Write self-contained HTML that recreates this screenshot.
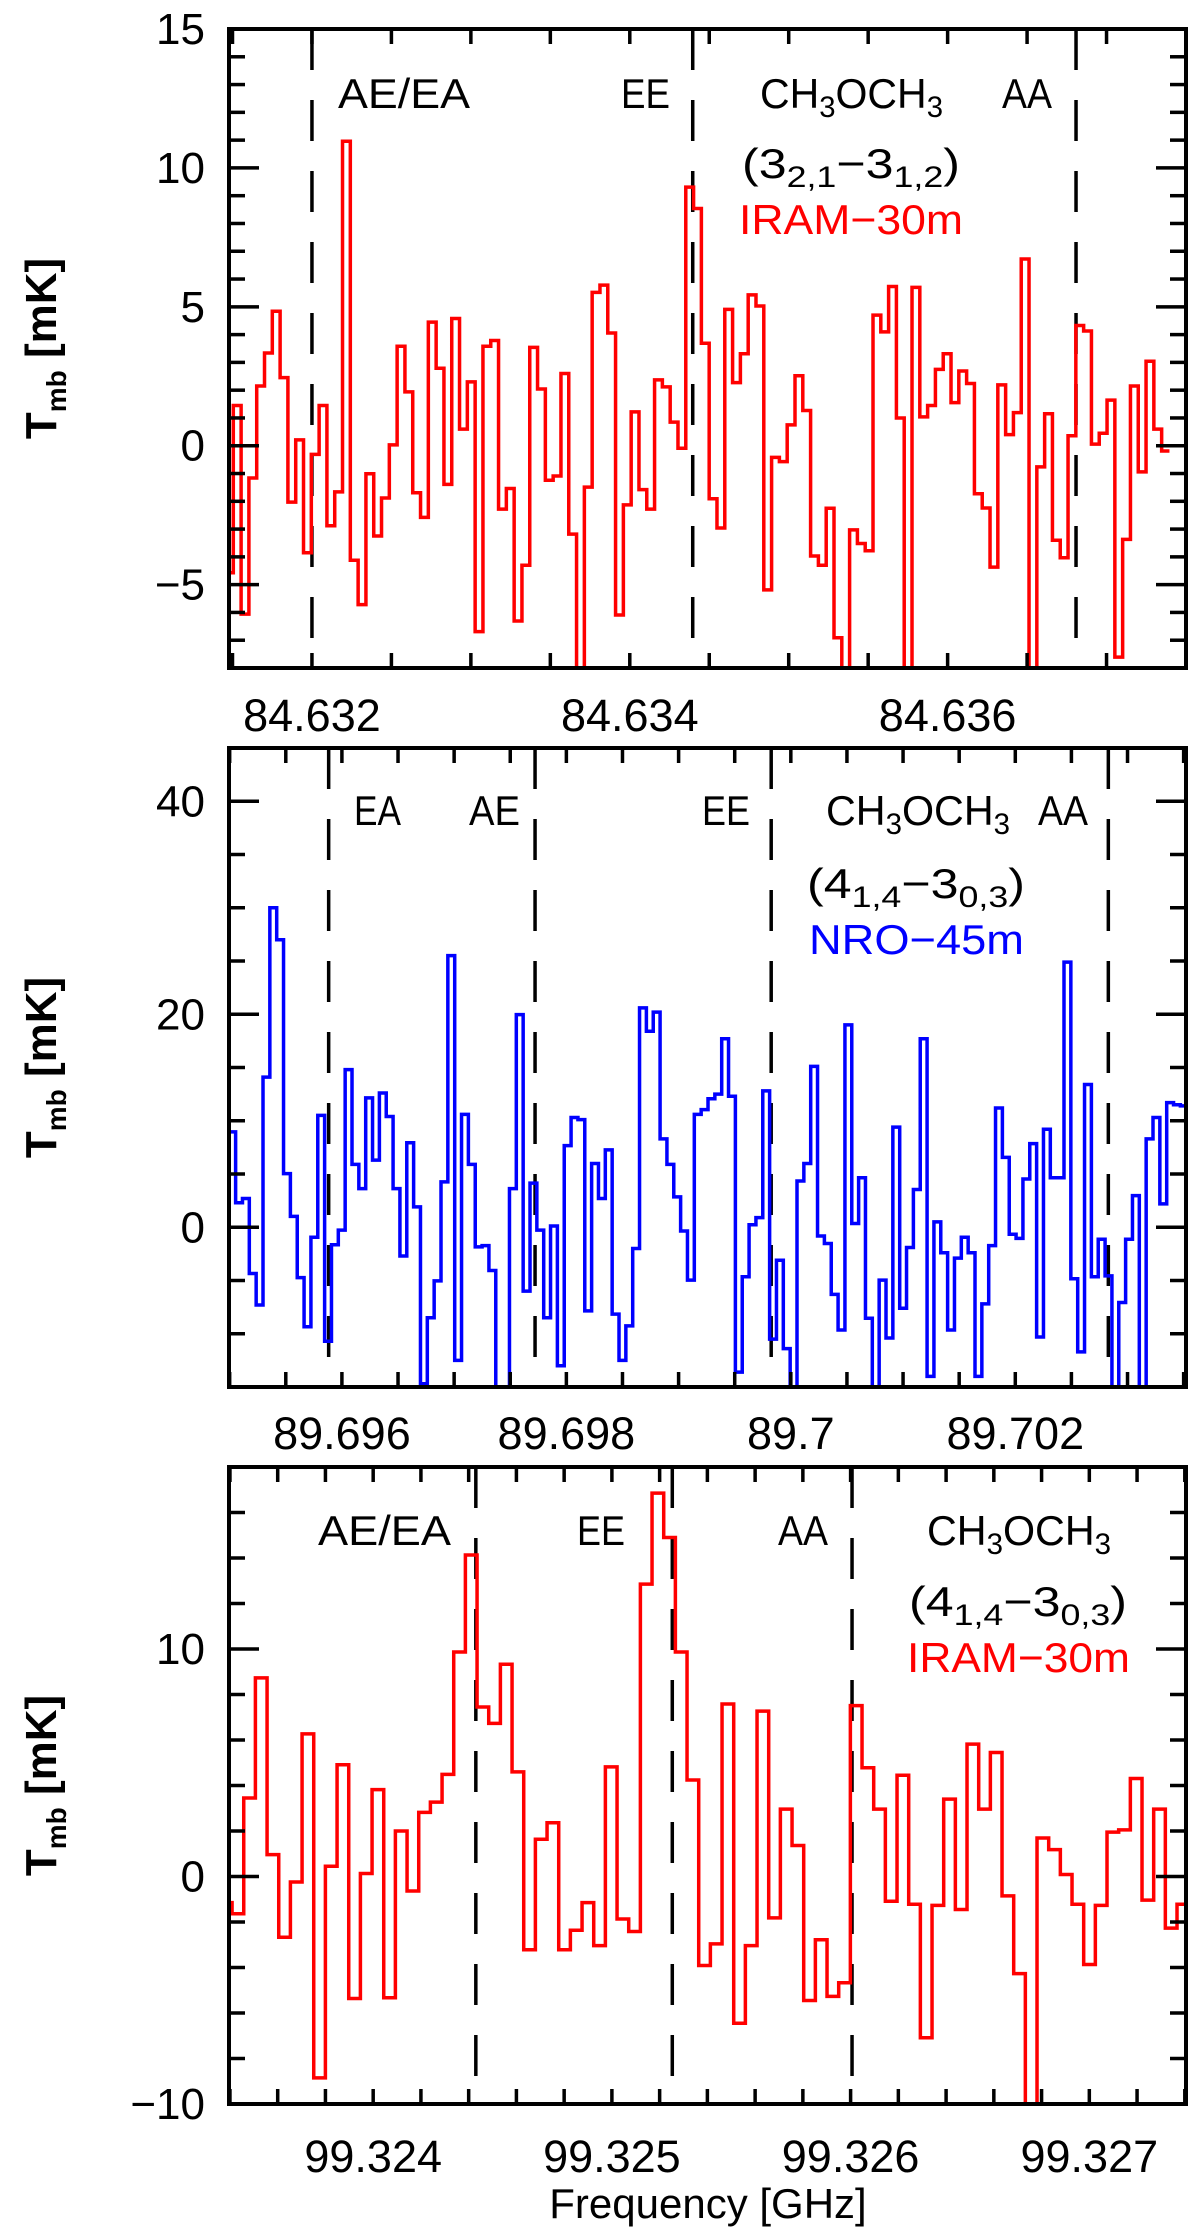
<!DOCTYPE html>
<html><head><meta charset="utf-8"><title>CH3OCH3 spectra</title>
<style>
html,body{margin:0;padding:0;background:#fff;}
svg{display:block;font-family:"Liberation Sans",sans-serif;}
</style></head>
<body>
<svg id="fig" width="1200" height="2231" viewBox="0 0 1200 2231" xmlns="http://www.w3.org/2000/svg">
<rect x="0" y="0" width="1200" height="2231" fill="#fff"/>
</svg>
<script>
// ---------- Panel 1: IRAM-30m 3(2,1)-3(1,2) ----------
const p1ChanStart = 84.631456;
const p1ChanWidth = 0.00004909;
const p1Values = [-4.57,1.45,-6.06,-1.16,2.15,3.34,4.84,2.45,-2.03,0.21,
-3.85,-0.31,1.45,-2.88,-1.66,10.96,-4.12,-5.72,-1.01,-3.25,
-1.88,0.03,3.58,1.94,-1.69,-2.58,4.45,2.79,-1.39,4.58,
0.6,2.3,-6.69,3.58,3.79,-2.28,-1.54,-6.31,-4.3,3.54,
2.04,-1.24,-1.09,2.6,-3.18,-9,-1.49,5.52,5.78,4.06,
-6.09,-2.13,1.22,-1.58,-2.28,2.37,2.12,0.85,-0.09,9.31,
8.54,3.69,-1.91,-2.96,4.91,2.27,3.31,5.43,5.03,-5.19,
-0.42,-0.57,0.75,2.52,1.27,-3.97,-4.3,-2.25,-6.91,-9,
-3.03,-3.52,-3.78,4.7,4.1,5.73,1.0,-9,5.7,1.04,
1.45,2.75,3.31,1.55,2.69,2.24,-1.73,-2.24,-4.37,2.19,
0.4,1.19,6.72,-9,-0.76,1.15,-3.4,-4.03,0.36,4.33,
4.13,0.06,0.45,1.64,-7.61,-3.37,2.15,-0.94,3.04,0.6,-0.19];
const p1Lines = [84.632, 84.634396, 84.636808];
const p1XTickLabels = ["84.632","84.634","84.636"];
const p1XTickValues = [84.632,84.634,84.636];
const p1YTickLabels = ["15","10","5","0","\u22125"];
const p1YTickValues = [15,10,5,0,-5];

// ---------- Panel 2: NRO-45m 4(1,4)-3(0,3) ----------
const p2ChanStart = 89.694992;
const p2ChanWidth = 0.0000610;
const p2Values = [8.95,2.3,2.7,-4.34,-7.3,14.1,30.0,27.0,5.04,1.02,
-4.73,-9.34,-0.94,10.5,-10.7,-1.64,-0.27,14.8,5.9,3.63,
12.15,6.3,12.6,10.4,3.63,-2.7,7.93,1.91,-14.7,-8.5,
-5.04,4.26,25.5,-12.5,10.6,5.9,-1.84,-1.72,-4.06,-16,
-16,3.63,19.96,-6.0,4.14,-0.27,-8.5,0.12,-13.0,7.66,
10.3,10.1,-7.85,5.98,2.7,7.27,-8.16,-12.5,-9.26,-2.0,
20.6,18.4,20.2,8.3,5.9,2.85,-0.35,-4.96,10.6,11.05,
12.07,12.5,17.7,12.3,-13.6,-4.65,0.23,0.9,12.8,-10.5,
-3.1,-11.4,-16,4.34,5.98,15.1,-0.82,-1.52,-6.3,-9.65,
19.0,0.35,4.65,-8.55,-16,-4.96,-10.4,9.4,-7.6,-1.9,
3.55,17.7,-14.0,0.5,-2.4,-9.65,-2.9,-0.94,-2.4,-14.0,
-7.2,-1.72,11.2,6.56,-0.66,-1.05,4.53,7.85,-10.3,9.2,
4.65,4.65,24.9,-4.84,-11.7,13.4,-4.65,-1.13,-4.57,-16,
-7.07,-1.13,2.97,-16,8.3,10.3,2.19,11.7,11.5,11.4];
const p2Lines = [89.695882, 89.697721, 89.699825, 89.702829];
const p2XTickLabels = ["89.696","89.698","89.7","89.702"];
const p2XTickValues = [89.696,89.698,89.700,89.702];
const p2YTickLabels = ["40","20","0"];
const p2YTickValues = [40,20,0];

// ---------- Panel 3: IRAM-30m 4(1,4)-3(0,3) ----------
const p3ChanStart = 99.323360;
const p3ChanWidth = 0.00004887;
const p3Values = [-1.15,-1.64,3.45,8.73,0.96,-2.67,-0.24,6.27,-8.85,0.45,
4.91,-5.36,0.13,3.82,-5.33,2.0,-0.64,2.82,3.27,4.49,
9.87,14.13,7.45,6.73,9.33,4.6,-3.22,1.64,2.36,-3.22,
-2.36,-1.15,-3.04,4.82,-1.87,-2.42,12.85,16.85,14.9,9.87,
4.24,-3.91,-2.96,7.58,-6.45,-3.04,7.27,-1.82,2.96,1.36,
-5.45,-2.78,-5.27,-4.67,7.51,4.78,2.96,-1.09,4.45,-1.22,
-7.09,-1.27,3.4,-1.45,5.82,2.96,5.45,-0.85,-4.27,-11,
1.69,1.18,0.09,-1.22,-3.87,-1.27,1.95,2.05,4.31,-1.04,
2.96,-2.27,-1.22];
const p3Lines = [99.32443, 99.325253, 99.326006];
const p3XTickLabels = ["99.324","99.325","99.326","99.327"];
const p3XTickValues = [99.324,99.325,99.326,99.327];
const p3YTickLabels = ["10","0","\u221210"];
const p3YTickValues = [10,0,-10];

const NS = "http://www.w3.org/2000/svg";
const svg = document.getElementById("fig");
function mk(tag, attrs, parent){
  const e = document.createElementNS(NS, tag);
  for (const k in attrs) e.setAttribute(k, attrs[k]);
  (parent||svg).appendChild(e);
  return e;
}

const L = 229, R = 1186;

function drawPanel(o){
  const g = mk("g", {});
  
  
  const xs = f => L + (f - o.xmin) / (o.xmax - o.xmin) * (R - L);
  const ys = v => o.bot - (v - o.ymin) / (o.ymax - o.ymin) * (o.bot - o.top);
  const clipId = "clip-" + o.name;
  const cp = mk("clipPath", {id: clipId}, g);
  mk("rect", {x: L, y: o.top, width: R - L, height: o.bot - o.top}, cp);

  o.lines.forEach((f) => {
    const ln = mk("line", {x1: xs(f), x2: xs(f), y1: o.top, y2: o.bot, stroke: "#000", "stroke-width": 3.5, "stroke-dasharray": "41 30"}, g);
    
    
  });

  let d = "";
  o.values.forEach((v, i) => {
    const x0 = xs(o.chanStart + i * o.chanWidth);
    const x1 = xs(o.chanStart + (i + 1) * o.chanWidth);
    const y = ys(v);
    d += (i === 0 ? "M" + x0.toFixed(2) + "," + y.toFixed(2) : "V" + y.toFixed(2)) + "H" + x1.toFixed(2);
  });
  const path = mk("path", {d: d, fill: "none", stroke: o.color, "stroke-width": 3.5, "stroke-linejoin": "miter", "clip-path": "url(#" + clipId + ")"}, g);
  
  

  const tk = mk("g", {stroke: "#000", "stroke-width": 3.5}, g);
  
  
  for (let f = Math.ceil(o.xmin / o.xStep - 1e-6) * o.xStep; f <= o.xmax + 1e-9; f += o.xStep) {
    const x = xs(f);
    mk("line", {x1: x, x2: x, y1: o.top, y2: o.top + 15}, tk);
    mk("line", {x1: x, x2: x, y1: o.bot, y2: o.bot - 15}, tk);
  }
  for (let k = Math.ceil(o.ymin / o.yMinor); k * o.yMinor <= o.ymax + 1e-9; k++) {
    const v = k * o.yMinor;
    const y = ys(v);
    const major = Math.abs(v / o.yMajor - Math.round(v / o.yMajor)) < 1e-6;
    const len = major ? 30 : 16;
    mk("line", {x1: L, x2: L + len, y1: y, y2: y}, tk);
    mk("line", {x1: R, x2: R - len, y1: y, y2: y}, tk);
  }
  const fr = mk("rect", {x: L, y: o.top, width: R - L, height: o.bot - o.top, fill: "none", stroke: "#000", "stroke-width": 4}, g);
  
  

  o.xTickValues.forEach((f, i) => {
    const t = mk("text", {x: xs(f), y: o.xLabelY, "text-anchor": "middle", "font-size": 45, fill: "#000"}, g);
    t.textContent = o.xTickLabels[i];
    
    
  });
  o.yTickValues.forEach((v, i) => {
    const t = mk("text", {x: 205, y: ys(v) + 15, "text-anchor": "end", "font-size": 44, fill: "#000"}, g);
    t.textContent = o.yTickLabels[i];
    
    
  });
  const cy = (o.top + o.bot) / 2;
  const yt = mk("text", {x: 0, y: 0, transform: "translate(56," + cy + ") rotate(-90)", "text-anchor": "middle", "font-size": 44, "font-weight": "bold", fill: "#000"}, g);
  yt.innerHTML = 'T<tspan font-size="28" dy="10">mb</tspan><tspan dy="-10"> [mK]</tspan>';
  
  
  return g;
}

drawPanel({name: "panel-iram-84ghz", top: 29, bot: 668, xmin: 84.631478, xmax: 84.6375, ymin: -8, ymax: 15,
  chanStart: p1ChanStart, chanWidth: p1ChanWidth, values: p1Values, lines: p1Lines, color: "#ff0000",
  xStep: 0.0005, yMinor: 1, yMajor: 5, xTickValues: p1XTickValues, xTickLabels: p1XTickLabels,
  yTickValues: p1YTickValues, yTickLabels: p1YTickLabels, xLabelY: 731});
drawPanel({name: "panel-nro-89ghz", top: 748, bot: 1387, xmin: 89.694994, xmax: 89.703521, ymin: -15, ymax: 45,
  chanStart: p2ChanStart, chanWidth: p2ChanWidth, values: p2Values, lines: p2Lines, color: "#0000ff",
  xStep: 0.0005, yMinor: 5, yMajor: 20, xTickValues: p2XTickValues, xTickLabels: p2XTickLabels,
  yTickValues: p2YTickValues, yTickLabels: p2YTickLabels, xLabelY: 1449});
drawPanel({name: "panel-iram-99ghz", top: 1467, bot: 2104, xmin: 99.323396, xmax: 99.327405, ymin: -10, ymax: 18,
  chanStart: p3ChanStart, chanWidth: p3ChanWidth, values: p3Values, lines: p3Lines, color: "#ff0000",
  xStep: 0.0002, yMinor: 2, yMajor: 10, xTickValues: p3XTickValues, xTickLabels: p3XTickLabels,
  yTickValues: p3YTickValues, yTickLabels: p3YTickLabels, xLabelY: 2172});

function label(x, y, w, html, color, name){
  const t = mk("text", {x: x, y: y, "font-size": 42, fill: color, textLength: w, lengthAdjust: "spacingAndGlyphs"});
  t.innerHTML = html;
  
  
}
const chem = 'CH<tspan font-size="30" dy="9">3</tspan><tspan dy="-9">OCH</tspan><tspan font-size="30" dy="9">3</tspan>';
const tr1 = '(3<tspan font-size="30" dy="9">2,1</tspan><tspan dy="-9">\u22123</tspan><tspan font-size="30" dy="9">1,2</tspan><tspan dy="-9">)</tspan>';
const tr2 = '(4<tspan font-size="30" dy="9">1,4</tspan><tspan dy="-9">\u22123</tspan><tspan font-size="30" dy="9">0,3</tspan><tspan dy="-9">)</tspan>';
label(338, 108, 132, "AE/EA", "#000", "label-ae-ea");
label(621, 108, 49, "EE", "#000", "label-ee");
label(760, 108, 183, chem, "#000", "molecule-label");
label(1002, 108, 50, "AA", "#000", "label-aa");
label(742, 178, 218, tr1, "#000", "transition-label");
label(739, 234, 224, "IRAM\u221230m", "#ff0000", "telescope-label");
label(354, 825, 47, "EA", "#000", "label-ea");
label(469, 825, 51, "AE", "#000", "label-ae");
label(702, 825, 48, "EE", "#000", "label-ee");
label(826, 825, 184, chem, "#000", "molecule-label");
label(1038, 825, 50, "AA", "#000", "label-aa");
label(807, 898, 218, tr2, "#000", "transition-label");
label(809, 954, 215, "NRO\u221245m", "#0000ff", "telescope-label");
label(318, 1545, 133, "AE/EA", "#000", "label-ae-ea");
label(577, 1545, 48, "EE", "#000", "label-ee");
label(778, 1545, 50, "AA", "#000", "label-aa");
label(927, 1545, 184, chem, "#000", "molecule-label");
label(909, 1616, 218, tr2, "#000", "transition-label");
label(907, 1672, 223, "IRAM\u221230m", "#ff0000", "telescope-label");

const xt = mk("text", {x: 708, y: 2218, "text-anchor": "middle", "font-size": 42, fill: "#000"});
xt.textContent = "Frequency [GHz]";


</script>
</body></html>
